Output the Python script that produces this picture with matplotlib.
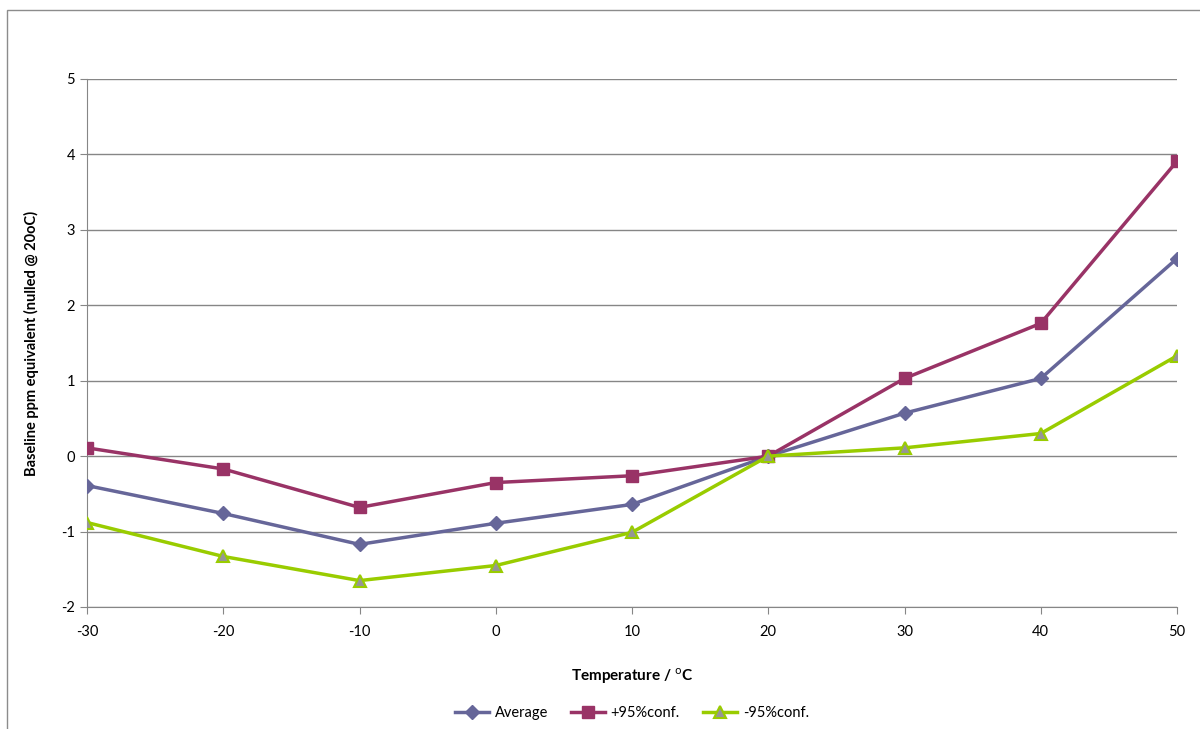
import matplotlib.pyplot as plt
from matplotlib.patches import Rectangle

temps = [-30, -20, -10, 0, 10, 20, 30, 40, 50]
average = [-0.39, -0.76, -1.17, -0.89, -0.64, 0.0, 0.57, 1.03, 2.62]
plus95 = [0.11, -0.17, -0.68, -0.35, -0.26, 0.0, 1.03, 1.76, 3.91]
minus95 = [-0.88, -1.33, -1.65, -1.45, -1.01, 0.0, 0.11, 0.30, 1.33]

plt.rcParams['font.family'] = ['Lato', 'DejaVu Sans']
plt.rcParams['axes.unicode_minus'] = False

fig = plt.figure(figsize=(12, 7.29), dpi=100)
fig.patches.append(Rectangle((7 / 1200, -0.1), 1.2, 1 - 10 / 729 + 0.1,
                             transform=fig.transFigure, fill=False,
                             edgecolor='#8c8c8c', linewidth=1))

ax = fig.add_axes([87 / 1200, 1 - 607 / 729, 1090 / 1200, 528 / 729])

ax.plot(temps, average, color='#666699', linewidth=2.5, marker='D',
        markersize=7, label='Average', zorder=3)
ax.plot(temps, plus95, color='#993366', linewidth=2.5, marker='s',
        markersize=9, label='+95%conf.', zorder=3)
ax.plot(temps, minus95, color='#99cc00', linewidth=2.5, marker='^',
        markersize=9, markerfacecolor='#969696', markeredgecolor='#99cc00',
        markeredgewidth=1.5, label='-95%conf.', zorder=3)

ax.set_xlim(-30, 50)
ax.set_ylim(-2, 5)
ax.set_xticks(temps)
ax.set_yticks(range(-2, 6))
ax.yaxis.grid(True, color='#868686', linewidth=1)
ax.set_axisbelow(True)

for s in ['top', 'right']:
    ax.spines[s].set_visible(False)
for s in ['left', 'bottom']:
    ax.spines[s].set_color('#868686')
ax.tick_params(colors='#868686', labelcolor='black', labelsize=10.5,
               length=5, direction='out')
ax.tick_params(axis='x', pad=8)

ax.set_xlabel('Temperature / $^{\\mathrm{o}}$C', fontsize=11,
              fontweight='bold', labelpad=20)
ax.set_ylabel('Baseline ppm equivalent (nulled @ 20oC)', fontsize=10.5,
              fontweight='bold', labelpad=16)

ax.legend(loc='upper center', bbox_to_anchor=(0.5, -0.163), ncol=3,
          frameon=False, fontsize=10.5, handlelength=2.3, columnspacing=1.6,
          handletextpad=0.4)

fig.savefig('out.png', dpi=100)
